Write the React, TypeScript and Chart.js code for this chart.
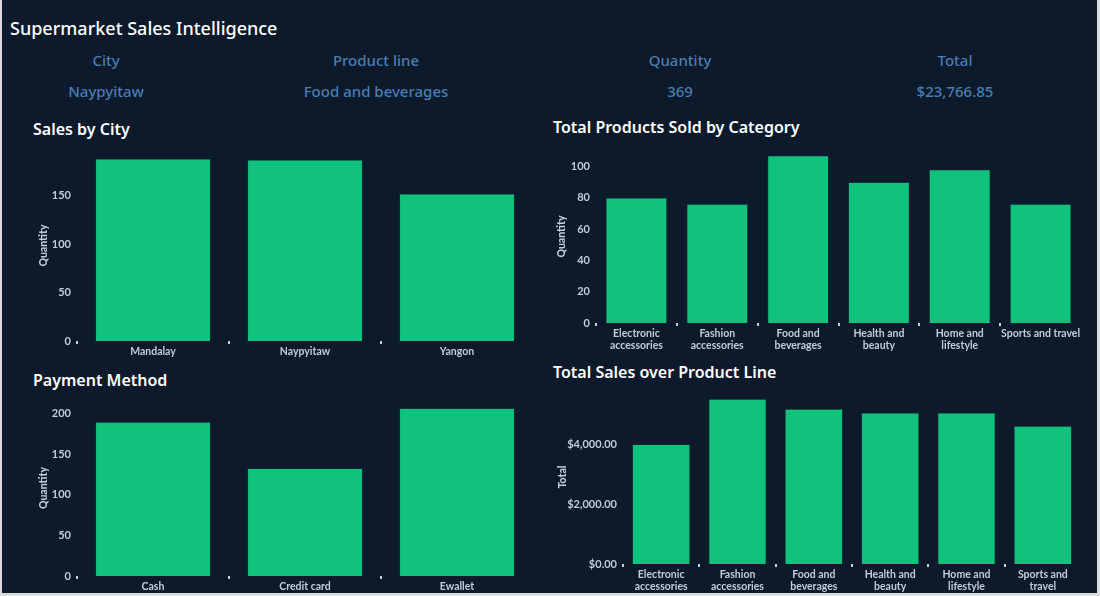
import React, { useEffect, useRef } from "react";
import { Chart, registerables } from "chart.js";

Chart.register(...registerables);

// ---- Data ----
const cityLabels = ["Mandalay", "Naypyitaw", "Yangon"];
const cityQuantity = [188, 187, 152];
const cityTicks = [0, 50, 100, 150];

const categoryLabels = [
  ["Electronic", "accessories"],
  ["Fashion", "accessories"],
  ["Food and", "beverages"],
  ["Health and", "beauty"],
  ["Home and", "lifestyle"],
  "Sports and travel",
];
const categoryQuantity = [80, 76, 107, 90, 98, 76];
const categoryTicks = [0, 20, 40, 60, 80, 100];

const paymentLabels = ["Cash", "Credit card", "Ewallet"];
const paymentQuantity = [190, 133, 207];
const paymentTicks = [0, 50, 100, 150, 200];

const productLineLabels = [
  ["Electronic", "accessories"],
  ["Fashion", "accessories"],
  ["Food and", "beverages"],
  ["Health and", "beauty"],
  ["Home and", "lifestyle"],
  ["Sports and", "travel"],
];
const productLineTotal = [3990, 5500, 5170, 5045, 5045, 4600];
const productLineTicks = [0, 2000, 4000];

const kpiHeaders = ["City", "Product line", "Quantity", "Total"];
const kpiValues = ["Naypyitaw", "Food and beverages", "369", "$23,766.85"];

// ---- Styles ----
const BG = "#0d1a2b";
const BAR = "#10c27d";
const TICK = "#c3cbd6";
const FONT = "'Noto Sans', 'Open Sans', sans-serif";
const TFONT = "Lato, 'Noto Sans', sans-serif";

type Cfg = {
  labels: any[];
  data: number[];
  ticks: number[];
  max: number;
  yTitle: string;
  yWidth: number;
  xHeight: number;
  titlePad: number;
  padding: { left: number; right: number; top: number; bottom: number };
  money?: boolean;
};

function BarChart({ cfg, style }: { cfg: Cfg; style: React.CSSProperties }) {
  const ref = useRef<HTMLCanvasElement | null>(null);
  useEffect(() => {
    if (!ref.current) return;
    const chart = new Chart(ref.current, {
      type: "bar",
      data: {
        labels: cfg.labels,
        datasets: [
          {
            data: cfg.data,
            backgroundColor: BAR,
            borderColor: "#0b3a33",
            borderWidth: 0.8,
            categoryPercentage: 0.76,
            barPercentage: 1,
          },
        ],
      },
      options: {
        animation: false,
        responsive: false,
        maintainAspectRatio: false,
        layout: { padding: cfg.padding },
        plugins: { legend: { display: false }, tooltip: { enabled: false } },
        scales: {
          x: {
            offset: true,
            afterFit: (s: any) => {
              s.height = cfg.xHeight;
              s.paddingLeft = 0;
              s.paddingRight = 0;
            },
            border: { display: false },
            grid: {
              offset: true,
              drawOnChartArea: false,
              drawTicks: true,
              tickLength: 3,
              lineWidth: 2,
              color: (c: any) => (c && c.type === "tick" ? "#c8ced6" : "rgba(0,0,0,0)"),
            },
            ticks: {
              color: TICK,
              padding: 1,
              maxRotation: 0,
              autoSkip: false,
              font: { family: TFONT, size: 10.5, weight: "700" as any, lineHeight: 1.2 },
            },
          },
          y: {
            min: 0,
            max: cfg.max,
            afterBuildTicks: (s: any) => {
              s.ticks = cfg.ticks.map((v) => ({ value: v }));
            },
            afterFit: (s: any) => {
              s.width = cfg.yWidth;
              s.paddingTop = 0;
              s.paddingBottom = 0;
            },
            border: { display: false },
            grid: { display: false, drawTicks: false, tickLength: 0 },
            title: {
              display: true,
              text: cfg.yTitle,
              color: TICK,
              padding: { top: cfg.titlePad, bottom: 0 },
              font: { family: TFONT, size: 10.5, weight: "900" as any },
            },
            ticks: {
              color: TICK,
              padding: 6,
              font: { family: TFONT, size: 11, weight: "700" as any },
              callback: (v: any) =>
                cfg.money
                  ? "$" +
                    Number(v).toLocaleString("en-US", {
                      minimumFractionDigits: 2,
                      maximumFractionDigits: 2,
                    })
                  : String(v),
            },
          },
        },
      },
    });
    return () => chart.destroy();
  }, []);
  const w = style.width as number;
  const h = style.height as number;
  return (
    <canvas
      ref={ref}
      width={w}
      height={h}
      style={{ position: "absolute", ...style }}
    />
  );
}

const titleStyle: React.CSSProperties = {
  position: "absolute",
  color: "#ffffff",
  fontFamily: FONT,
  fontWeight: 600,
  fontSize: 16,
  lineHeight: "20px",
  whiteSpace: "nowrap",
};

const kpiStyle: React.CSSProperties = {
  position: "absolute",
  color: "#4a7db3",
  fontFamily: FONT,
  fontWeight: 500,
  fontSize: 15,
  lineHeight: "20px",
  textAlign: "center",
  whiteSpace: "nowrap",
};

export default function App() {
  const kpiCols = [
    { left: 0, width: 212 },
    { left: 212, width: 328 },
    { left: 540, width: 280 },
    { left: 820, width: 270 },
  ];
  return (
    <div
      style={{
        position: "fixed",
        left: 0,
        top: 0,
        width: 1100,
        height: 596,
        background: "#d9dbe0",
        overflow: "hidden",
      }}
    >
      <div
        style={{
          position: "absolute",
          left: 2,
          top: 0,
          width: 1095,
          height: 593,
          background: BG,
        }}
      >
        <div
          style={{
            position: "absolute",
            left: 8,
            top: 17,
            color: "#ffffff",
            fontFamily: FONT,
            fontWeight: 500,
            fontSize: 18,
            lineHeight: "22px",
            whiteSpace: "nowrap",
          }}
        >
          Supermarket Sales Intelligence
        </div>
        {kpiCols.map((c, i) => (
          <React.Fragment key={i}>
            <div style={{ ...kpiStyle, left: c.left - 2, width: c.width, top: 50 }}>
              {kpiHeaders[i]}
            </div>
            <div style={{ ...kpiStyle, left: c.left - 2, width: c.width, top: 81 }}>
              {kpiValues[i]}
            </div>
          </React.Fragment>
        ))}
        <div style={{ ...titleStyle, left: 31, top: 119 }}>Sales by City</div>
        <div style={{ ...titleStyle, left: 551, top: 117 }}>
          Total Products Sold by Category
        </div>
        <div style={{ ...titleStyle, left: 31, top: 370 }}>Payment Method</div>
        <div style={{ ...titleStyle, left: 551, top: 362 }}>
          Total Sales over Product Line
        </div>
      </div>
      <BarChart
        style={{ left: 0, top: 145, width: 540, height: 215 }}
        cfg={{
          labels: cityLabels,
          data: cityQuantity,
          ticks: cityTicks,
          max: 197,
          yTitle: "Quantity",
          yWidth: 77,
          xHeight: 19,
          titlePad: 37,
          padding: { left: 0, right: 7, top: 5, bottom: 0 },
        }}
      />
      <BarChart
        style={{ left: 540, top: 140, width: 560, height: 220 }}
        cfg={{
          labels: categoryLabels,
          data: categoryQuantity,
          ticks: categoryTicks,
          max: 110.5,
          yTitle: "Quantity",
          yWidth: 56,
          xHeight: 37,
          titlePad: 15,
          padding: { left: 0, right: 19, top: 10, bottom: 0 },
        }}
      />
      <BarChart
        style={{ left: 0, top: 390, width: 540, height: 206 }}
        cfg={{
          labels: paymentLabels,
          data: paymentQuantity,
          ticks: paymentTicks,
          max: 217,
          yTitle: "Quantity",
          yWidth: 77,
          xHeight: 20,
          titlePad: 37,
          padding: { left: 0, right: 7, top: 10, bottom: 0 },
        }}
      />
      <BarChart
        style={{ left: 540, top: 385, width: 560, height: 211 }}
        cfg={{
          labels: productLineLabels,
          data: productLineTotal,
          ticks: productLineTicks,
          max: 5800,
          yTitle: "Total",
          yWidth: 83,
          xHeight: 32,
          titlePad: 16,
          padding: { left: 0, right: 19, top: 5, bottom: 0 },
          money: true,
        }}
      />
    </div>
  );
}
